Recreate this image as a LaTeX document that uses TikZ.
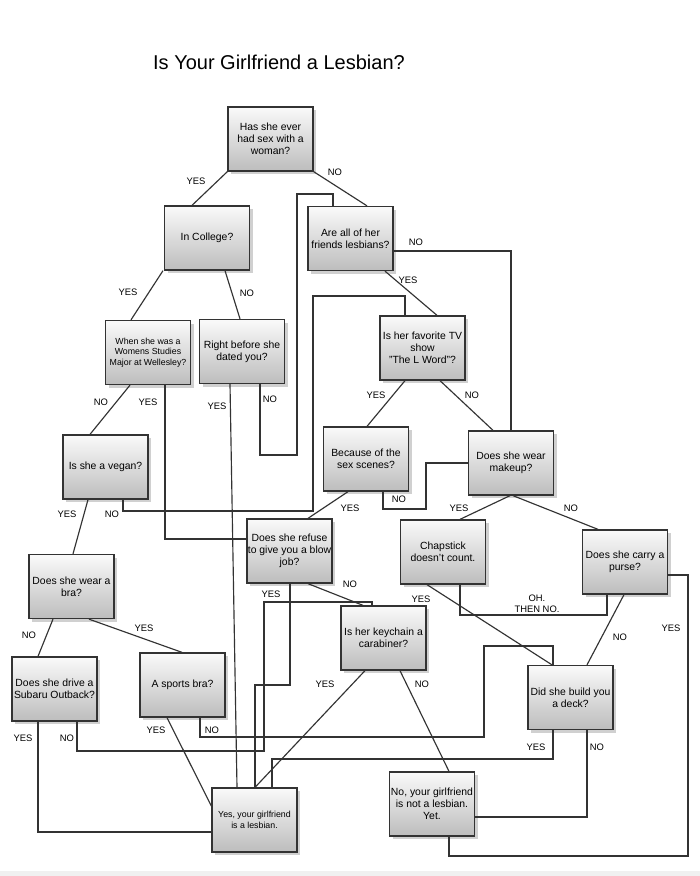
\documentclass[tikz,border=0pt]{standalone}
\usepackage{fontspec}
\setmainfont{Liberation Sans}
\usetikzlibrary{shadows}
\begin{document}
\begin{tikzpicture}[x=1pt,y=-1pt,
  qbox/.style={draw=black!80, line width=1.3pt, top color=black!2, bottom color=black!26,
    minimum width=85pt, minimum height=64pt, inner sep=1pt, align=center,
    font=\fontsize{10.4}{12}\selectfont,
    drop shadow={shadow xshift=3pt, shadow yshift=-3pt, opacity=0.3, fill=black!60}},
  smalltxt/.style={font=\fontsize{8.8}{10.5}\selectfont},
  lbl/.style={font=\fontsize{9.4}{11}\selectfont, inner sep=0pt, align=center},
  conn/.style={draw=black!80, line width=1.15pt}
]
\useasboundingbox (0,0) rectangle (700,876);
\fill[white] (0,0) rectangle (700,876);
\fill[black!6] (0,871) rectangle (700,876);

\node[font=\fontsize{20}{24}\selectfont, inner sep=0pt] (title) at (279,62) {Is Your Girlfriend a Lesbian?};

% boxes
\node[qbox] (n1) at (270.5,139) {Has she ever\\had sex with a\\woman?};
\node[qbox] (n2) at (207,238) {In College?};
\node[qbox] (n3) at (350.5,238.5) {Are all of her\\friends lesbians?};
\node[qbox, smalltxt] (n4) at (148,352.5) {When she was a\\Womens Studies\\Major at Wellesley?};
\node[qbox] (n5) at (242,351.5) {Right before she\\dated you?};
\node[qbox] (n6) at (422.5,348) {Is her favorite TV\\show\\"The L Word"?};
\node[qbox] (n7) at (105.5,467) {Is she a vegan?};
\node[qbox] (n8) at (366,459) {Because of the\\sex scenes?};
\node[qbox] (n9) at (511,463) {Does she wear\\makeup?};
\node[qbox] (n10) at (289.5,551) {Does she refuse\\to give you a blow\\job?};
\node[qbox] (n11) at (443,552) {Chapstick\\doesn't count.};
\node[qbox] (n12) at (625,562) {Does she carry a\\purse?};
\node[qbox] (n13) at (71.5,586.5) {Does she wear a\\bra?};
\node[qbox] (n14) at (383.5,638) {Is her keychain a\\carabiner?};
\node[qbox] (n15) at (54.5,689) {Does she drive a\\Subaru Outback?};
\node[qbox] (n16) at (182.5,685) {A sports bra?};
\node[qbox] (n17) at (570.5,697.5) {Did she build you\\a deck?};
\node[qbox, smalltxt] (n18) at (254.5,820) {Yes, your girlfriend\\is a lesbian.};
\node[qbox] (n19) at (432,804) {No, your girlfriend\\is not a lesbian.\\Yet.};

% connectors
\draw[conn] (n1.south west) -- (n2.north -| 192,0);
\draw[conn] (n1.south east) -- (n3.north -| 367,0);
\draw[conn] (n2.south -| 163,0) -- (n4.north -| 131,0);
\draw[conn] (n2.south -| 225,0) -- (n5.north -| 240,0);
\draw[conn] (n3.east |- 0,251) -| (n9.north -| 511,0);
\draw[conn] (n3.south -| 385,0) -- (n6.north -| 437,0);
\draw[conn] (n5.south -| 230,0) -- (n18.north -| 237,0);
\draw[conn] (n5.south -| 260,0) -- (260,455) -- (297,455) -- (297,194) -- (333,194) -- (n3.north -| 333,0);
\draw[conn] (n6.south -| 405,0) -- (n8.north -| 367,0);
\draw[conn] (n6.south -| 440,0) -- (n9.north -| 493,0);
\draw[conn] (n4.south -| 130,0) -- (n7.north -| 90,0);
\draw[conn] (n4.south -| 165,0) |- (n10.west |- 0,539);
\draw[conn] (n7.south -| 123,0) -- (123,511) -- (313,511) -- (313,296) -- (405,296) -- (n6.north -| 405,0);
\draw[conn] (n7.south -| 88,0) -- (n13.north -| 73,0);
\draw[conn] (n8.south -| 383,0) -- (383,509) -- (426,509) |- (n9.west |- 0,463);
\draw[conn] (n8.south -| 348,0) -- (n10.north -| 308,0);
\draw[conn] (n9.south -| 510,0) -- (n11.north -| 460,0);
\draw[conn] (n9.south -| 513,0) -- (n12.north -| 598,0);
\draw[conn] (n10.south -| 290,0) -- (290,685) -- (255,685) -- (n18.north -| 255,0);
\draw[conn] (n10.south -| 308,0) -- (n14.north -| 363,0);
\draw[conn] (n15.south -| 77,0) -- (77,751) -- (264,751) -- (264,602) -- (372,602) -- (n14.north -| 372,0);
\draw[conn] (n13.south -| 53,0) -- (n15.north -| 38,0);
\draw[conn] (n13.south -| 89,0) -- (n16.north -| 182,0);
\draw[conn] (n16.south -| 167,0) -- (n18.west |- 0,806);
\draw[conn] (n16.south -| 200,0) -- (200,737) -- (484,737) -- (484,646) -- (553,646) -- (n17.north -| 553,0);
\draw[conn] (n15.south -| 38,0) |- (n18.west |- 0,832);
\draw[conn] (n14.south -| 365,0) -- (n18.north -| 255,0);
\draw[conn] (n14.south -| 400,0) -- (n19.north -| 449,0);
\draw[conn] (n11.south -| 460,0) -- (460,615) -| (n12.south -| 607,0);
\draw[conn] (n11.south -| 427,0) -- (n17.north -| 552,0);
\draw[conn] (n12.south -| 624,0) -- (n17.north -| 587,0);
\draw[conn] (n12.east |- 0,575) -- (688,575) -- (688,856) -- (449,856) -- (n19.south -| 449,0);
\draw[conn] (n17.south -| 553,0) -- (553,759) -- (272,759) -- (n18.north -| 272,0);
\draw[conn] (n17.south -| 587,0) |- (n19.east |- 0,817);

% labels
\node[lbl] (l1) at (196,181) {YES};
\node[lbl] (l2) at (335,172) {NO};
\node[lbl] (l3) at (128,292) {YES};
\node[lbl] (l4) at (247,293) {NO};
\node[lbl] (l5) at (416,242) {NO};
\node[lbl] (l6) at (408,280) {YES};
\node[lbl] (l7) at (101,402) {NO};
\node[lbl] (l8) at (148,402) {YES};
\node[lbl] (l9) at (217,406) {YES};
\node[lbl] (l10) at (270,399) {NO};
\node[lbl] (l11) at (376,395) {YES};
\node[lbl] (l12) at (472,395) {NO};
\node[lbl] (l13) at (67,514) {YES};
\node[lbl] (l14) at (112,514) {NO};
\node[lbl] (l15) at (399,499) {NO};
\node[lbl] (l16) at (350,508) {YES};
\node[lbl] (l17) at (459,508) {YES};
\node[lbl] (l18) at (571,508) {NO};
\node[lbl] (l19) at (350,584) {NO};
\node[lbl] (l20) at (271,594) {YES};
\node[lbl] (l21) at (421,599) {YES};
\node[lbl] (l22) at (537,604) {OH.\\THEN NO.};
\node[lbl] (l23) at (29,635) {NO};
\node[lbl] (l24) at (144,628) {YES};
\node[lbl] (l25) at (620,637) {NO};
\node[lbl] (l26) at (671,628) {YES};
\node[lbl] (l27) at (325,684) {YES};
\node[lbl] (l28) at (422,684) {NO};
\node[lbl] (l29) at (156,730) {YES};
\node[lbl] (l30) at (212,730) {NO};
\node[lbl] (l31) at (23,738) {YES};
\node[lbl] (l32) at (67,738) {NO};
\node[lbl] (l33) at (536,747) {YES};
\node[lbl] (l34) at (597,747) {NO};
\end{tikzpicture}
\end{document}
